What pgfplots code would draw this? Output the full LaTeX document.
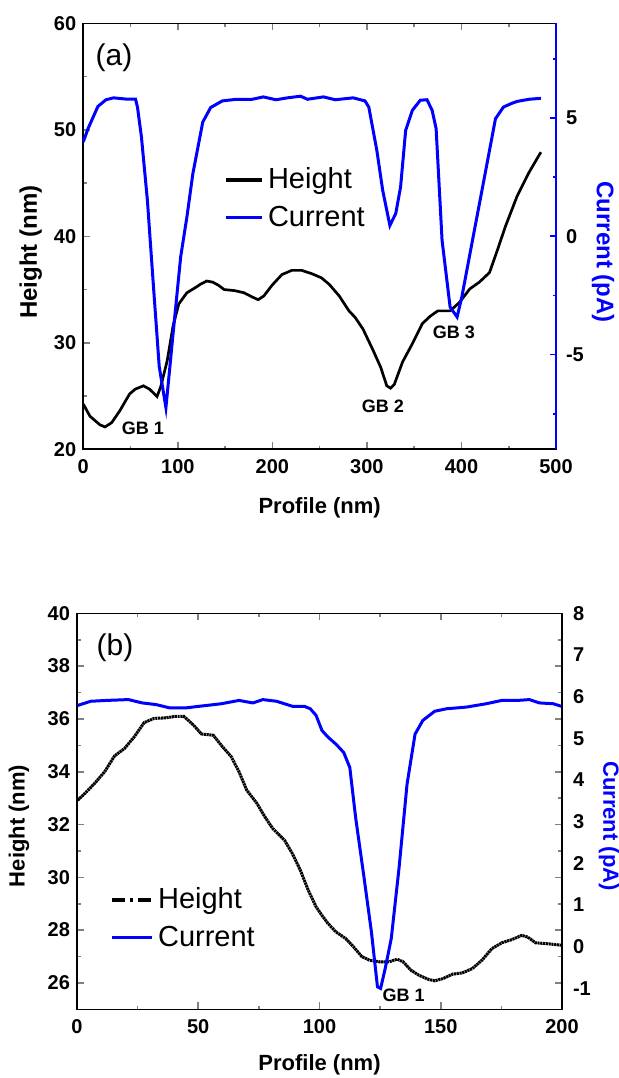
\documentclass[border=0pt]{standalone}
\usepackage{fontspec}
\setmainfont{Liberation Sans}
\usepackage{pgfplots}
\pgfplotsset{compat=1.18}

\definecolor{curblue}{RGB}{0,0,255}

\newcommand\labelfont{\fontsize{11}{13}\selectfont\bfseries}
\newcommand\gbfont{\fontsize{9}{11}\selectfont\bfseries}

\pgfplotsset{
  profile/.style={
    scale only axis, anchor=south west,
    tick align=inside,
    major tick length=3.5pt, minor tick length=1.8pt,
    axis line style={line width=0.8pt},
    tick style={line width=0.8pt},
    /pgf/number format/assume math mode=true,
    ticklabel style={font=\fontsize{10}{12}\selectfont\bfseries},
    xticklabel style={yshift=-1.5pt},
    clip=false,
  },
  legend image code/.code={\draw[#1] (0pt,0pt) -- (18pt,0pt);},
}

% Panel (a): height profile
\pgfplotstableread{
x h
0 24.24
7.1 23.1
17.6 22.3
23 22.1
30 22.5
38.5 23.6
49 25.2
55 25.65
63.6 25.96
70 25.65
78 24.96
82 25.9
88.7 28.3
95 31.6
101 33.65
109.6 34.7
118 35.15
124 35.5
130.5 35.8
136.8 35.7
143 35.4
149 35.0
160 34.9
170 34.7
178.7 34.3
185 34.05
191 34.4
199.6 35.4
210 36.4
220.5 36.8
231 36.8
241.4 36.5
251.9 36.1
260 35.5
270.7 34.4
281 33.0
287.4 32.4
295.8 31.3
306 29.4
314.6 27.7
321 25.96
325 25.74
329 26.1
337.7 28.2
348 29.9
358.6 31.8
367 32.5
375 33.0
388 33.0
398 33.8
408.8 35.06
419 35.7
429.7 36.6
438 38.7
446.4 40.9
459 43.8
471.5 46.0
484 47.9
}\heighta

% Panel (a): current profile
\pgfplotstableread{
x c
0 3.99
5 4.55
15.5 5.49
24 5.77
32 5.85
44.8 5.8
55.2 5.8
57.3 5.46
61.5 4.2
67.8 1.52
74 -2.0
80.3 -5.5
87.4 -7.24
95 -4.1
103 -0.87
109.6 0.82
115.9 2.65
126.4 4.83
134.7 5.44
147 5.72
162 5.79
178.7 5.79
190.4 5.89
203.8 5.77
216 5.85
229.7 5.92
237.2 5.79
254 5.89
266.5 5.77
285.4 5.85
298 5.72
302 5.46
310.5 3.63
316.7 1.94
324.3 0.46
330.5 0.96
335.6 2.08
341 4.48
348 5.32
356.5 5.75
363.6 5.77
369 5.32
373.2 4.55
379.5 -0.17
388 -2.99
395.4 -3.41
400.4 -2.56
413 0.11
423.4 2.3
436 4.97
444.4 5.46
452.7 5.61
459 5.7
471.5 5.79
484 5.83
}\currenta

% Panel (b): height profile
\pgfplotstableread{
x h
0.3 32.92
3.3 33.18
7.3 33.56
11.4 34.0
15.5 34.6
19.6 34.88
23.6 35.32
27.7 35.86
31.8 36.02
36.7 36.04
40.7 36.1
44 36.1
48 35.77
51.3 35.43
56.2 35.38
59.5 35.0
63.6 34.57
66.8 34.0
70 33.3
74.2 32.8
77.4 32.3
80.7 31.85
85.6 31.4
88.8 30.9
92.1 30.27
95.4 29.5
98.6 28.88
101 28.56
103.5 28.25
106.8 27.93
110.8 27.68
114.1 27.36
117.4 27.0
120.6 26.86
124.7 26.8
128.8 26.8
132 26.9
134.5 26.8
137.7 26.48
141 26.29
145 26.13
147.5 26.08
150.8 26.16
154.9 26.33
158.9 26.38
163 26.54
167 26.86
171.1 27.3
175.2 27.52
179.3 27.64
183.4 27.8
185.8 27.74
189.1 27.52
193.2 27.49
199.7 27.43
}\heightb

% Panel (b): current profile
\pgfplotstableread{
x c
0.3 5.79
5.7 5.89
12.2 5.91
21.2 5.93
26.9 5.85
32.6 5.81
38.3 5.73
44.8 5.73
50.5 5.77
59.5 5.83
66.8 5.91
72.5 5.85
76.6 5.93
82.3 5.89
88.8 5.77
93.7 5.77
96.2 5.71
98.6 5.55
101 5.19
103.5 5.03
106.8 4.86
110 4.66
112.5 4.3
114.9 3.1
118.2 1.73
121.4 0.36
123.9 -0.96
125.2 -1.0
127.1 -0.52
129.6 0.2
132.8 1.89
136.1 3.9
139.4 5.1
142.6 5.43
147.5 5.65
152.4 5.71
160.6 5.75
168.7 5.83
175.2 5.91
181.7 5.91
186.6 5.93
190.7 5.85
196.4 5.83
199.7 5.77
}\currentb

\begin{document}
\begin{tikzpicture}

%% ---------------- Panel (a) ----------------
\begin{axis}[profile,
  at={(41.65pt,314.35pt)}, width=236.35pt, height=213pt,
  xmin=0, xmax=500, ymin=20, ymax=60,
  xtick={0,100,...,500}, minor xtick={50,150,...,450},
  ytick={20,30,...,60}, minor ytick={25,35,...,55},
  xtick pos=both, ytick pos=left,
  xlabel={Profile (nm)}, ylabel={Height (nm)},
  every axis x label/.style={at={(axis description cs:0.5,-0.138)}, anchor=center, font=\labelfont},
  every axis y label/.style={at={(axis description cs:-0.111,0.463)}, anchor=center, rotate=90,
    font=\fontsize{12}{14}\selectfont\bfseries},
]
  \addplot[black, line width=1.35pt] table[x=x, y=h] {\heighta};
  \node[font=\fontsize{15}{18}\selectfont] at (axis description cs:0.065,0.9185) {(a)};
  \node[font=\gbfont] at (axis cs:63,22.0) {GB 1};
  \node[font=\gbfont] at (axis cs:317,24.0) {GB 2};
  \node[font=\gbfont] at (axis cs:392,30.95) {GB 3};
\end{axis}

\begin{axis}[profile,
  at={(41.65pt,314.35pt)}, width=236.35pt, height=213pt,
  xmin=0, xmax=500, ymin=-9, ymax=9,
  axis x line=none, axis y line*=right,
  y axis line style={curblue, line width=0.8pt},
  ytick style={curblue, line width=0.8pt},
  major tick length=3pt, minor tick length=1.4pt,
  ytick={-5,0,5}, minor ytick={-7.5,-2.5,2.5,7.5},
  yticklabel style={xshift=1.5pt},
  ylabel={Current (pA)},
  every axis y label/.style={at={(axis description cs:1.0994,0.463)}, anchor=center, rotate=-90,
    curblue, font=\fontsize{12}{14}\selectfont\bfseries},
  legend style={draw=none, fill=none, at={(axis description cs:0.2977,0.671)}, anchor=north west,
    font=\fontsize{14.5}{17}\selectfont, row sep=3pt, inner sep=0pt,
    nodes={inner sep=2pt}},
  legend cell align=left,
]
  \addlegendimage{black, line width=1.8pt}
  \addlegendentry{Height}
  \addplot[curblue, line width=1.5pt] table[x=x, y=c] {\currenta};
  \addlegendentry{Current}
\end{axis}

%% ---------------- Panel (b) ----------------
\begin{axis}[profile,
  at={(38.5pt,34.35pt)}, width=242.5pt, height=198pt,
  xmin=0, xmax=200, ymin=25, ymax=40,
  xtick={0,50,...,200}, minor xtick={25,75,...,175},
  ytick={26,28,...,40}, minor ytick={25,27,...,39},
  xtick pos=both, ytick pos=both,
  xlabel={Profile (nm)}, ylabel={Height (nm)},
  every axis x label/.style={at={(axis description cs:0.5,-0.1407)}, anchor=center, font=\labelfont},
  every axis y label/.style={at={(axis description cs:-0.1198,0.463)}, anchor=center, rotate=90,
    font=\labelfont},
]
  \addplot[black, line width=1.5pt, dash pattern=on 1.1pt off 0.3pt] table[x=x, y=h] {\heightb};
  \node[font=\fontsize{15}{18}\selectfont] at (axis description cs:0.0785,0.912) {(b)};
  \node[font=\gbfont] at (axis cs:134.7,25.54) {GB 1};
\end{axis}

\begin{axis}[profile,
  at={(38.5pt,34.35pt)}, width=242.5pt, height=198pt,
  xmin=0, xmax=200, ymin=-1.5, ymax=8,
  axis x line=none, axis y line*=right,
  ytick={-1,0,...,8},
  major tick length=0pt, minor tick length=0pt,
  yticklabel style={xshift=2pt},
  ylabel={Current (pA)},
  every axis y label/.style={at={(axis description cs:1.097,0.463)}, anchor=center, rotate=-90,
    curblue, font=\labelfont},
  legend style={draw=none, fill=none, at={(axis description cs:0.0682,0.3177)}, anchor=north west,
    font=\fontsize{14.5}{17}\selectfont, row sep=3pt, inner sep=0pt,
    nodes={inner sep=2pt}},
  legend image code/.code={\draw[#1] (0pt,0pt) -- (20pt,0pt);},
  legend cell align=left,
]
  \addlegendimage{black, line width=1.8pt, dash pattern=on 6.5pt off 2.5pt on 1.5pt off 2.5pt}
  \addlegendentry{Height}
  \addplot[curblue, line width=1.5pt] table[x=x, y=c] {\currentb};
  \addlegendentry{Current}
\end{axis}

\pgfresetboundingbox
\path (0pt,0pt) rectangle (309.5pt,539pt);
\end{tikzpicture}
\end{document}
